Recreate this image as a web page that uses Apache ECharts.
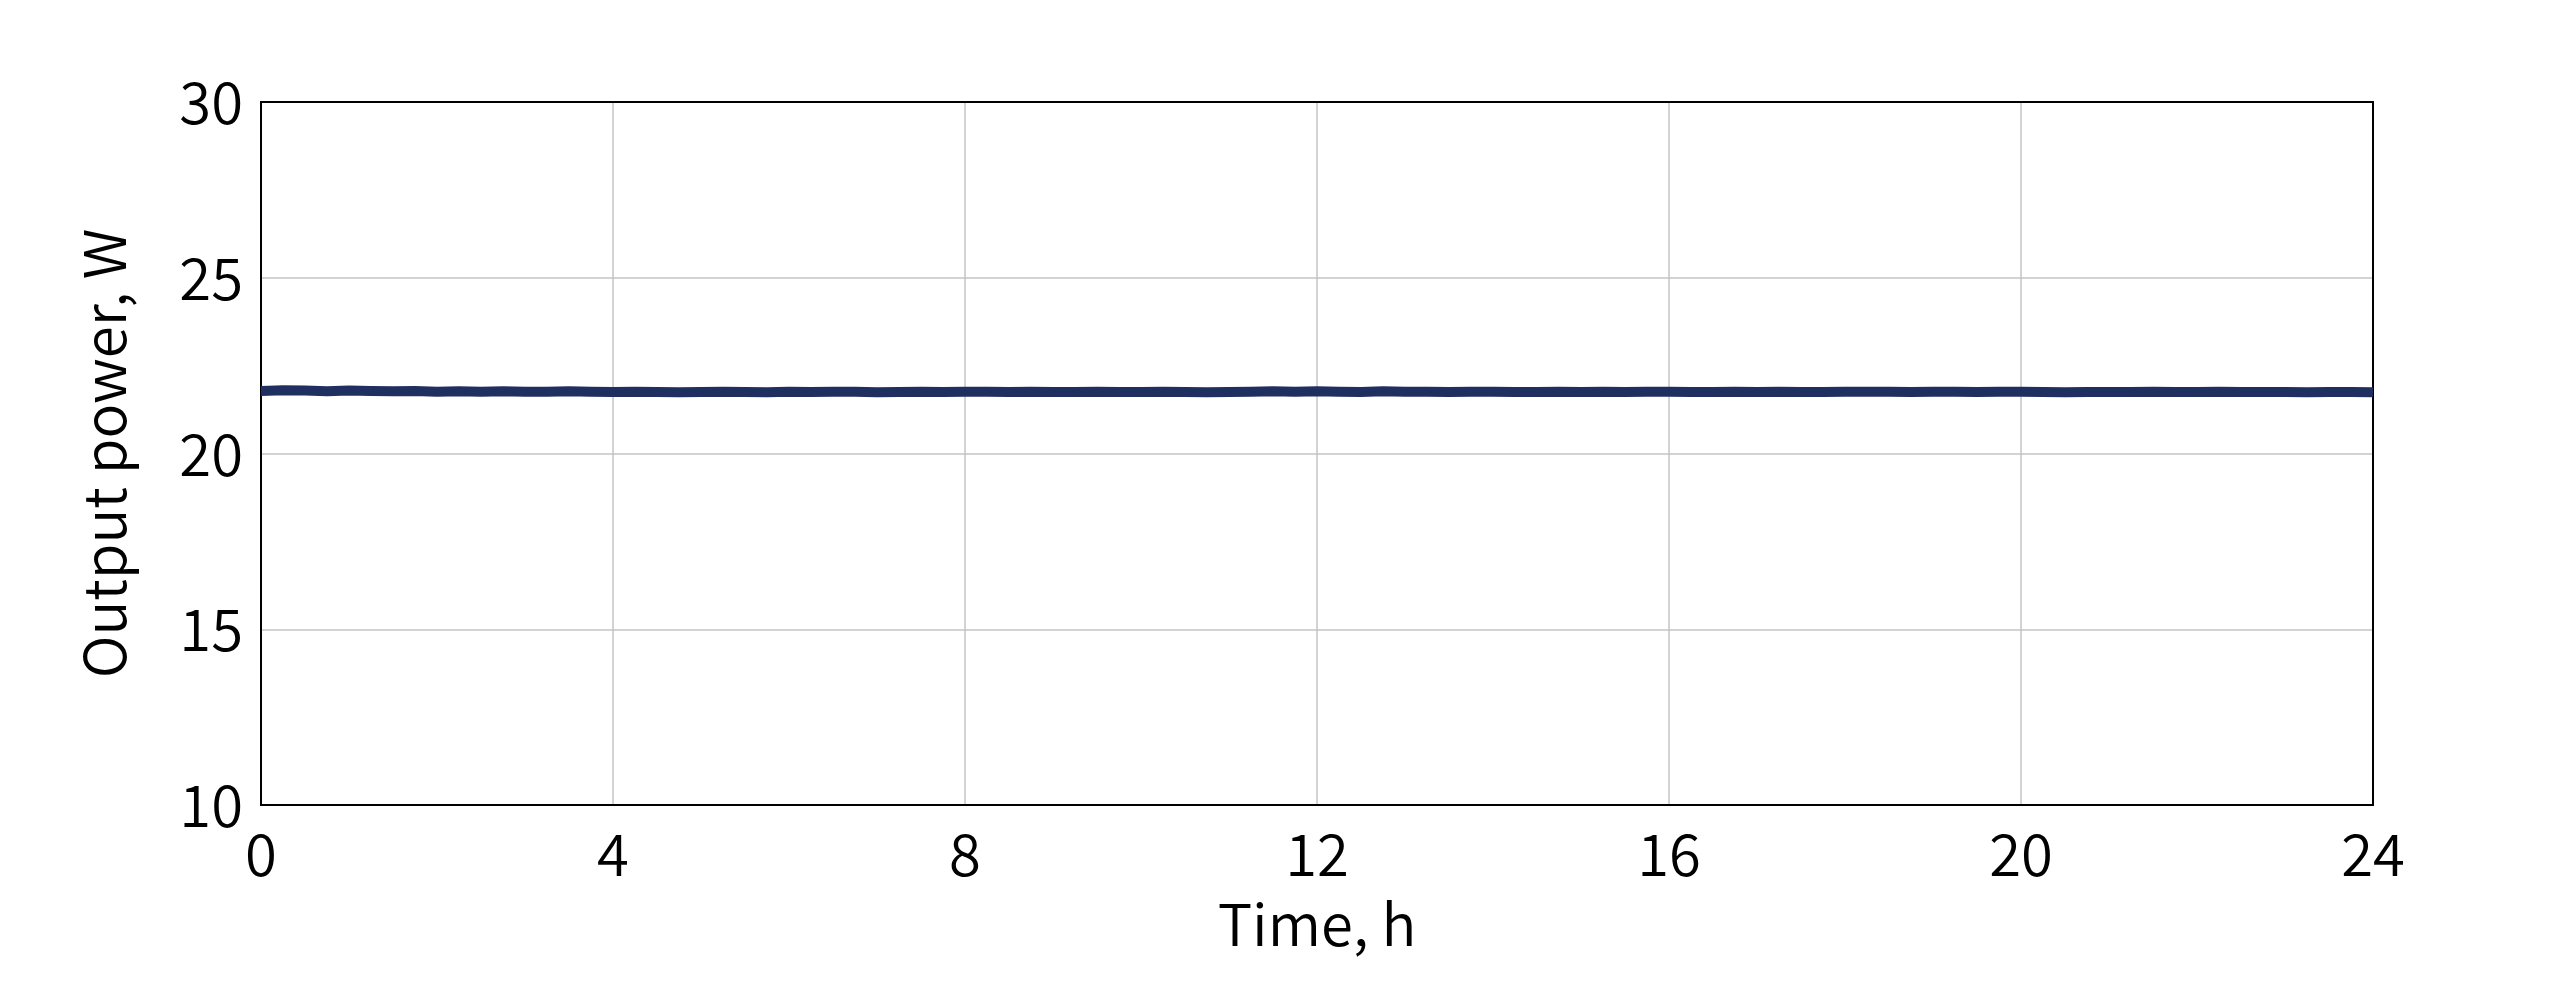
<!DOCTYPE html>
<html>
<head>
<meta charset="utf-8">
<script src="https://cdn.jsdelivr.net/npm/echarts@6/dist/echarts.min.js"></script>
<style>html,body{margin:0;padding:0;background:#fff;}#c{width:2550px;height:990px;}</style>
</head>
<body>
<div id="c"></div>
<script>
const timeHours = [0,0.25,0.5,0.75,1,1.25,1.5,1.75,2,2.25,2.5,2.75,3,3.25,3.5,3.75,4,4.25,4.5,4.75,5,5.25,5.5,5.75,6,6.25,6.5,6.75,7,7.25,7.5,7.75,8,8.25,8.5,8.75,9,9.25,9.5,9.75,10,10.25,10.5,10.75,11,11.25,11.5,11.75,12,12.25,12.5,12.75,13,13.25,13.5,13.75,14,14.25,14.5,14.75,15,15.25,15.5,15.75,16,16.25,16.5,16.75,17,17.25,17.5,17.75,18,18.25,18.5,18.75,19,19.25,19.5,19.75,20,20.25,20.5,20.75,21,21.25,21.5,21.75,22,22.25,22.5,22.75,23,23.25,23.5,23.75,24];
const powerW = [21.78,21.80,21.79,21.77,21.79,21.78,21.77,21.78,21.76,21.77,21.76,21.77,21.76,21.76,21.77,21.76,21.75,21.76,21.75,21.74,21.75,21.76,21.75,21.74,21.76,21.75,21.76,21.76,21.74,21.75,21.76,21.75,21.76,21.76,21.75,21.76,21.75,21.75,21.76,21.75,21.75,21.76,21.75,21.74,21.75,21.76,21.77,21.76,21.77,21.76,21.75,21.77,21.76,21.76,21.75,21.76,21.76,21.75,21.75,21.76,21.75,21.76,21.75,21.76,21.76,21.75,21.75,21.76,21.75,21.76,21.75,21.75,21.76,21.76,21.76,21.75,21.76,21.76,21.75,21.76,21.76,21.75,21.74,21.75,21.75,21.75,21.76,21.75,21.75,21.76,21.75,21.75,21.75,21.74,21.75,21.75,21.74];
const xTicks = [0,4,8,12,16,20,24];
const yTicks = [10,15,20,25,30];

const font = '"Noto Sans CJK JP", "Noto Sans", sans-serif';
const chart = echarts.init(document.getElementById('c'), null, {renderer: 'canvas'});
chart.setOption({
  animation: false,
  grid: {left: 261, right: 177, top: 102, bottom: 185, show: true, borderColor: '#000', borderWidth: 2, containLabel: false, z: 3},
  xAxis: {
    type: 'value', min: xTicks[0], max: xTicks[xTicks.length-1], interval: 4,
    name: 'Time, h', nameLocation: 'middle', nameGap: 90,
    nameTextStyle: {fontSize: 58, color: '#000', fontFamily: font, fontWeight: 350},
    axisLine: {show: true, lineStyle: {color: '#000', width: 2}}, axisTick: {show: false},
    axisLabel: {fontSize: 58, color: '#000', fontFamily: font, fontWeight: 350, margin: 20},
    splitLine: {show: true, showMinLine: false, showMaxLine: false, lineStyle: {color: '#c4c4c4', width: 1.5}}
  },
  yAxis: {
    type: 'value', min: yTicks[0], max: yTicks[yTicks.length-1], interval: 5,
    name: 'Output power, W', nameLocation: 'middle', nameGap: 128,
    nameTextStyle: {fontSize: 58, color: '#000', fontFamily: font, fontWeight: 350},
    axisLine: {show: true, lineStyle: {color: '#000', width: 2}}, axisTick: {show: false},
    axisLabel: {fontSize: 58, color: '#000', fontFamily: font, fontWeight: 350, margin: 18},
    splitLine: {show: true, showMinLine: false, showMaxLine: false, lineStyle: {color: '#c4c4c4', width: 1.5}}
  },
  series: [{
    type: 'line', showSymbol: false, symbol: 'none',
    data: timeHours.map((t, i) => [t, powerW[i]]),
    lineStyle: {color: '#1f2f5f', width: 10},
    z: 5
  }]
});
</script>
</body>
</html>
